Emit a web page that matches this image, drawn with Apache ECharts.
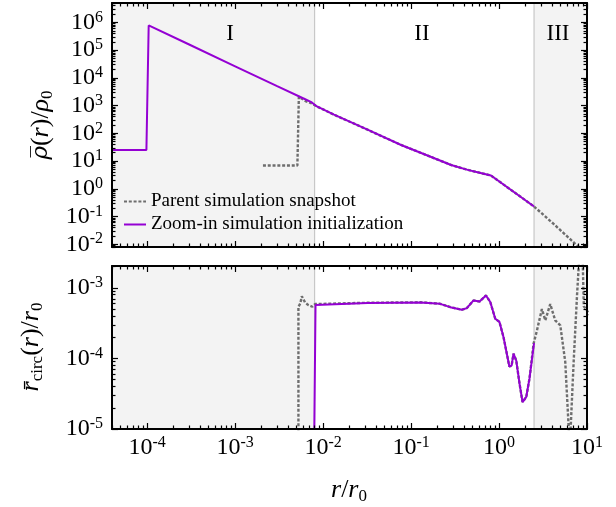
<!DOCTYPE html>
<html>
<head>
<meta charset="utf-8">
<script src="https://cdn.jsdelivr.net/npm/echarts@6/dist/echarts.min.js"></script>
<style>
  html, body { margin: 0; padding: 0; background: #fff; }
  #chart { width: 616px; height: 507px; }
</style>
</head>
<body>
<div id="chart"></div>
<script>
// region boundaries (r/r0) and their labels
const regionEdges = [0.008, 2.5];
const regionNames = ['I', 'II', 'III'];

// top panel: mean density profile
const rhoZoomR = [3e-5, 0.98e-4, 1.04e-4, 3e-4, 1e-3, 3e-3, 6e-3, 7.45e-3, 8.5e-3, 0.0133, 0.032, 0.077, 0.184, 0.285, 0.44, 0.6, 0.81, 2.5];
const rhoZoomV = [25, 25, 7.8e5, 1.6e5, 2.6e4, 5e3, 1.8e3, 1.3e3, 930, 470, 135, 38, 12.6, 7.2, 4.8, 3.8, 3.0, 0.23];
const rhoParentR = [2.07e-3, 5.1e-3, 5.3e-3, 6.3e-3, 7.4e-3, 8.5e-3, 0.0133, 0.032, 0.077, 0.184, 0.285, 0.44, 0.6, 0.81, 2.5, 4.2, 7.2, 8.8];
const rhoParentV = [6.9, 6.9, 2.1e3, 1.45e3, 1.2e3, 930, 470, 135, 38, 12.6, 7.2, 4.8, 3.8, 3.0, 0.23, 0.053, 0.011, 0.0062];

// bottom panel: mean circularization radius
const rcZoomR = [7.9e-3, 8.2e-3, 0.032, 0.128, 0.214, 0.279, 0.378, 0.43, 0.513, 0.60, 0.71, 0.795, 0.906, 1.01, 1.125, 1.31, 1.39, 1.46, 1.57, 1.71, 1.85, 2.04, 2.22, 2.5];
const rcZoomV = [5e-6, 5.7e-4, 6.1e-4, 6.2e-4, 5.94e-4, 5.33e-4, 4.89e-4, 5.16e-4, 6.64e-4, 6.4e-4, 7.8e-4, 6.3e-4, 3.65e-4, 3.3e-4, 2.0e-4, 7.7e-5, 7.9e-5, 1.17e-4, 9.3e-5, 4.4e-5, 2.4e-5, 2.85e-5, 5.2e-5, 1.65e-4];
const rcParentR = [5.24e-3, 5.24e-3, 5.5e-3, 5.73e-3, 6.24e-3, 6.8e-3, 7.55e-3, 8.1e-3, 0.032, 0.128, 0.214, 0.279, 0.378, 0.43, 0.513, 0.60, 0.71, 0.795, 0.906, 1.01, 1.125, 1.31, 1.39, 1.46, 1.57, 1.71, 1.85, 2.04, 2.22, 2.47, 2.7, 3.07, 3.36, 3.82, 4.35, 4.97, 5.66, 6.17, 6.35, 6.5, 7.05, 7.7, 8.2, 8.9, 9.2, 11];
const rcParentV = [5e-6, 5.4e-4, 6.0e-4, 7.6e-4, 6.2e-4, 5.7e-4, 5.4e-4, 5.9e-4, 6.15e-4, 6.25e-4, 5.95e-4, 5.35e-4, 4.9e-4, 5.17e-4, 6.64e-4, 6.4e-4, 7.8e-4, 6.3e-4, 3.65e-4, 3.3e-4, 2.0e-4, 7.7e-5, 7.9e-5, 1.17e-4, 9.3e-5, 4.4e-5, 2.4e-5, 2.85e-5, 5.2e-5, 1.62e-4, 2.5e-4, 5.0e-4, 3.46e-4, 5.9e-4, 3.46e-4, 2.94e-4, 8.9e-5, 1.13e-5, 5e-6, 5e-6, 8.9e-5, 7.8e-4, 3e-3, 3e-3, 5.5e-4, 4e-4];

// axis ranges and tick labels
const xRange = [Math.pow(10, -4.4), 10];
const rhoRange = [Math.pow(10, -2.1), Math.pow(10, 6.7)];
const rcRange = [1e-5, Math.pow(10, -2.69)];
const xTicks = [1e-4, 1e-3, 1e-2, 1e-1, 1, 10];
const rhoTicks = [1e-2, 1e-1, 1, 10, 1e2, 1e3, 1e4, 1e5, 1e6];
const rcTicks = [1e-5, 1e-4, 1e-3];

const serif = 'Liberation Serif';
const purple = '#9400d3';
const grey = '#6e6e6e';

function minorTicks(range) {
  const out = [];
  const lo = Math.floor(Math.log10(range[0]));
  const hi = Math.ceil(Math.log10(range[1]));
  for (let d = lo; d < hi; d++) {
    for (let k = 2; k <= 9; k++) {
      const v = k * Math.pow(10, d);
      if (v > range[0] && v < range[1]) out.push(v);
    }
  }
  return out;
}

const tickRich = {
  b: { fontFamily: serif, fontSize: 24, lineHeight: 26, color: '#000' },
  s: { fontFamily: serif, fontSize: 16, lineHeight: 16, verticalAlign: 'top', color: '#000' }
};
function powLabel(v) {
  return '{b|10}{s|' + Math.round(Math.log10(v)) + '}';
}

const nameRich = {
  i: { fontFamily: serif, fontStyle: 'italic', fontSize: 26, lineHeight: 30, fill: '#000' },
  ib: { fontFamily: 'DejaVu Serif', fontStyle: 'italic', fontSize: 23, lineHeight: 30, fill: '#000' },
  n: { fontFamily: serif, fontSize: 26, lineHeight: 30, fill: '#000' },
  sub: { fontFamily: serif, fontSize: 17, lineHeight: 14, verticalAlign: 'bottom', fill: '#000' }
};

// four axes per side pair: labelled side, opposite side, and a minor-tick copy of each
function axisSet(dim, gridIndex, range, majors, showLabels) {
  const sides = dim === 'x' ? ['bottom', 'top'] : ['left', 'right'];
  const minors = minorTicks(range);
  const axes = [];
  sides.forEach((pos, si) => {
    [true, false].forEach((isMajor) => {
      const main = si === 0 && isMajor;
      axes.push({
        type: 'log',
        gridIndex,
        position: pos,
        min: range[0],
        max: range[1],
        z: 10,
        axisLine: { show: isMajor, onZero: false, lineStyle: { color: '#000', width: 2 } },
        axisTick: {
          show: true,
          inside: true,
          length: isMajor ? 6 : 3.5,
          customValues: isMajor ? majors : minors,
          lineStyle: { color: '#000', width: 1.2 }
        },
        axisLabel: main ? {
          show: true,
          customValues: majors,
          formatter: showLabels ? powLabel : () => '',
          rich: tickRich,
          margin: dim === 'x' ? 6 : 9
        } : { show: false },
        splitLine: { show: false }
      });
    });
  });
  return axes;
}

const xAxes = [
  ...axisSet('x', 0, xRange, xTicks, false),
  ...axisSet('x', 1, xRange, xTicks, true)
];
const yAxes = [
  ...axisSet('y', 0, rhoRange, rhoTicks, true),
  ...axisSet('y', 1, rcRange, rcTicks, true)
];

// axis titles
const titles = [
  { text: '{ib|ρ\u0305}{n|(}{i|r}{n|)/}{i|ρ}{sub|0}', x: 41, y: 125, rotation: Math.PI / 2 },
  { text: '{i|r\u0304}{sub|circ}{n|(}{i|r}{n|)/}{i|r}{sub|0}', x: 31, y: 347, rotation: Math.PI / 2 },
  { text: '{i|r}{n|/}{i|r}{sub|0}', x: 349, y: 490, rotation: 0 }
];

function regionSeries(axisIndex) {
  return {
    type: 'line',
    xAxisIndex: axisIndex,
    yAxisIndex: axisIndex,
    data: [],
    z: 1,
    silent: true,
    markArea: {
      silent: true,
      itemStyle: { color: '#f3f3f3', borderColor: '#c8c8c8', borderWidth: 1.2 },
      data: [
        [{ xAxis: xRange[0] }, { xAxis: regionEdges[0] }],
        [{ xAxis: regionEdges[1] }, { xAxis: xRange[1] }]
      ]
    }
  };
}

function zip(r, v) {
  return r.map((x, i) => [x, v[i]]);
}

function curve(name, r, v, axisIndex, isParent) {
  return {
    name,
    type: 'line',
    xAxisIndex: axisIndex,
    yAxisIndex: axisIndex,
    data: zip(r, v),
    symbol: 'none',
    clip: true,
    z: isParent ? 2 : 3,
    color: isParent ? grey : purple,
    lineStyle: isParent
      ? { color: grey, width: 2.4, type: [3, 1.8] }
      : { color: purple, width: 2 }
  };
}

const parentName = 'Parent simulation snapshot';
const zoomName = 'Zoom-in simulation initialization';

const chart = echarts.init(document.getElementById('chart'));
chart.setOption({
  animation: false,
  backgroundColor: '#fff',
  grid: [
    { left: 112, top: 3, width: 475, height: 244 },
    { left: 112, top: 266, width: 475, height: 163 }
  ],
  xAxis: xAxes,
  yAxis: yAxes,
  legend: {
    data: [parentName, zoomName],
    orient: 'vertical',
    left: 118,
    top: 186,
    itemWidth: 22,
    itemHeight: 10,
    itemGap: 2,
    itemStyle: { opacity: 0 },
    textStyle: { fontFamily: serif, fontSize: 19, color: '#000', lineHeight: 21 }
  },
  graphic: [
    ...regionNames.map((t, i) => ({
      type: 'text',
      x: [230, 422, 558][i],
      y: 34,
      z: 100,
      style: { text: t, fontFamily: serif, fontSize: 23, fill: '#000', align: 'center', verticalAlign: 'middle' }
    })),
    ...titles.map((t) => ({
      type: 'text',
      x: t.x,
      y: t.y,
      rotation: t.rotation,
      z: 100,
      style: { text: t.text, rich: nameRich, fill: '#000', align: 'center', verticalAlign: 'middle' }
    }))
  ],
  series: [
    regionSeries(0),
    regionSeries(4),
    curve(parentName, rhoParentR, rhoParentV, 0, true),
    curve(zoomName, rhoZoomR, rhoZoomV, 0, false),
    curve(parentName, rcParentR, rcParentV, 4, true),
    curve(zoomName, rcZoomR, rcZoomV, 4, false)
  ]
});
</script>
</body>
</html>
